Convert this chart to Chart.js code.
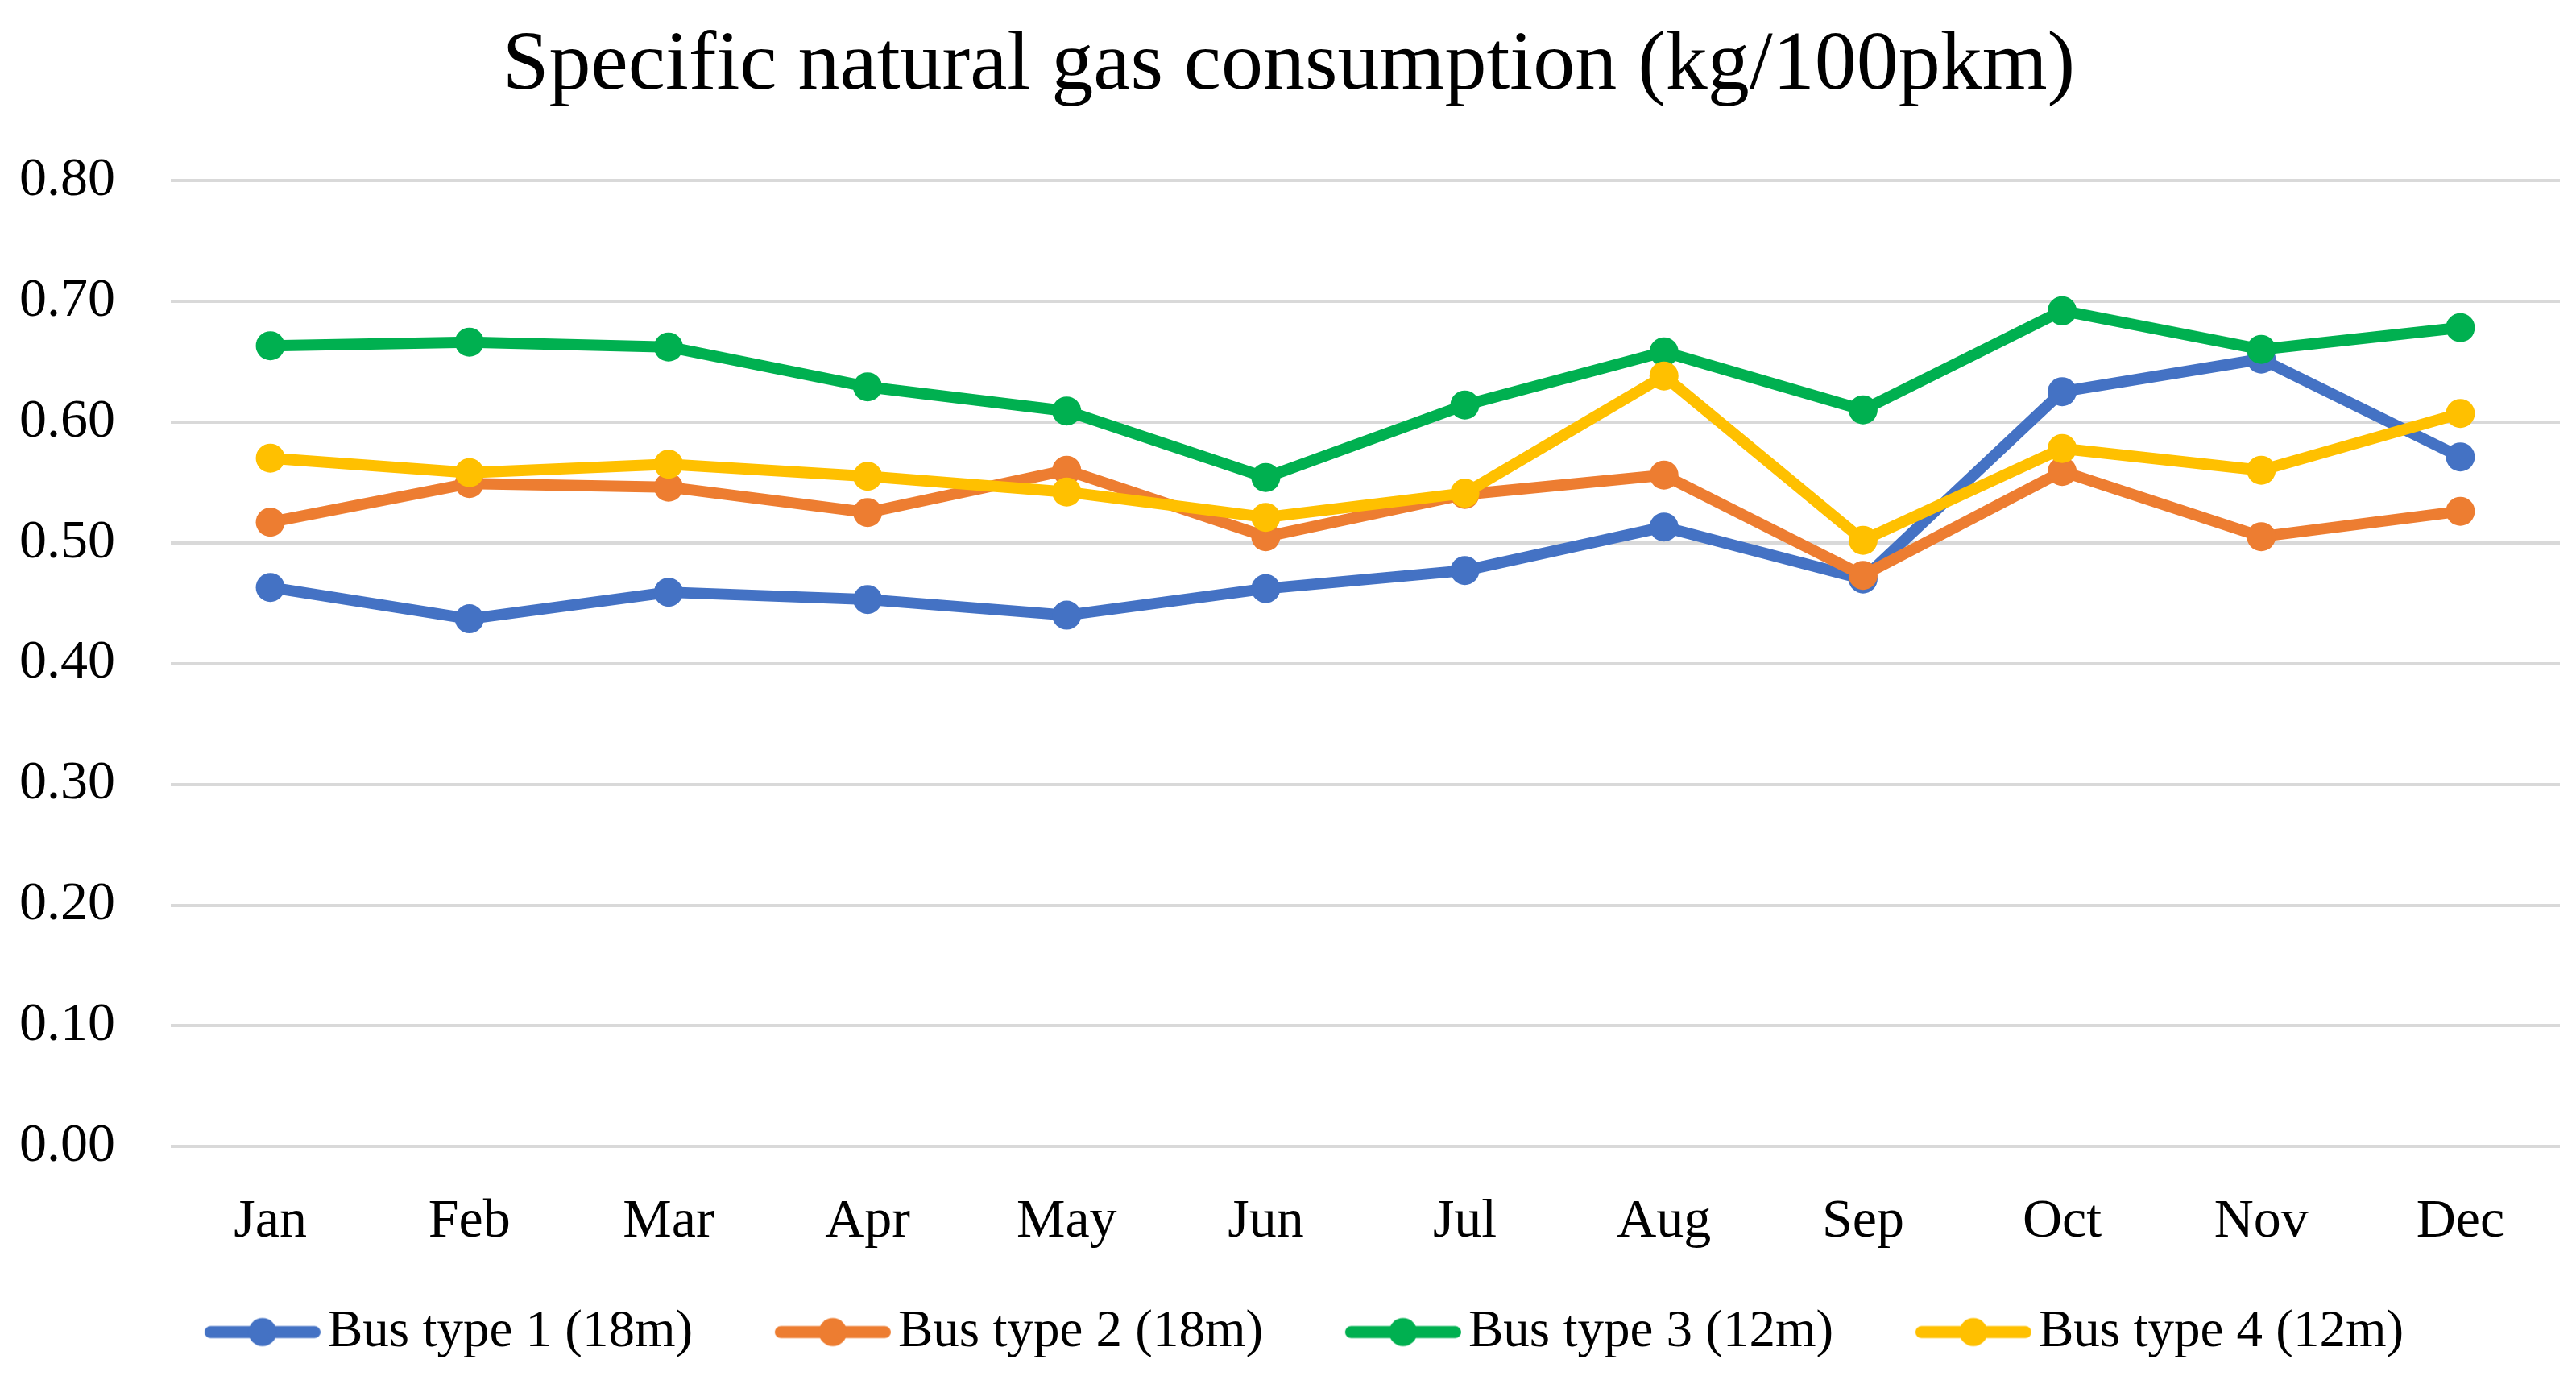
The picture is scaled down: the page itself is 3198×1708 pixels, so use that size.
<!DOCTYPE html>
<html>
<head>
<meta charset="utf-8">
<script src="https://cdn.jsdelivr.net/npm/chart.js@4"></script>
<style>
  html, body { margin: 0; padding: 0; background: #fff; }
  #wrap { width: 3198px; height: 1708px; }
</style>
</head>
<body>
<div id="wrap"><canvas id="gasChart"></canvas></div>
<script>
// data
const months = ['Jan', 'Feb', 'Mar', 'Apr', 'May', 'Jun', 'Jul', 'Aug', 'Sep', 'Oct', 'Nov', 'Dec'];
const bus1 = [0.463, 0.437, 0.459, 0.453, 0.440, 0.462, 0.477, 0.513, 0.470, 0.625, 0.652, 0.571];
const bus2 = [0.517, 0.549, 0.546, 0.525, 0.560, 0.505, 0.540, 0.556, 0.473, 0.559, 0.505, 0.526];
const bus3 = [0.663, 0.666, 0.662, 0.629, 0.609, 0.554, 0.614, 0.658, 0.610, 0.692, 0.660, 0.678];
const bus4 = [0.570, 0.558, 0.565, 0.555, 0.542, 0.521, 0.541, 0.638, 0.502, 0.578, 0.560, 0.607];
const seriesNames = ['Bus type 1 (18m)', 'Bus type 2 (18m)', 'Bus type 3 (12m)', 'Bus type 4 (12m)'];
const yTicks = [0, 0.1, 0.2, 0.3, 0.4, 0.5, 0.6, 0.7, 0.8];

const colors = ['#4472C4', '#ED7D31', '#00B050', '#FFC000'];
const FONT = "'Liberation Serif', serif";
const LEGEND_SIZE = 65;
const LEGEND_PAD = 10;
const ITEM_PITCH = 708;   // distance between legend items in the reference
const LINE_LEN = 144;     // legend line sample length
const TEXT_GAP = 9;

// work out legend box width so the items land where Excel put them
const mctx = document.createElement('canvas').getContext('2d');
mctx.font = LEGEND_SIZE + "px " + FONT;
const textW = Math.max(...seriesNames.map(s => mctx.measureText(s).width));
const half = LEGEND_SIZE / 2;
const boxW = ITEM_PITCH - half - textW - LEGEND_PAD;
const imgW = Math.round(boxW + 2 * (half - TEXT_GAP));

// legend marker: line with a dot in the middle, like Excel
function legendMarker(color) {
  const c = document.createElement('canvas');
  c.width = imgW; c.height = 40;
  const g = c.getContext('2d');
  const x0 = imgW - LINE_LEN;
  g.strokeStyle = color;
  g.lineWidth = 15;
  g.lineCap = 'round';
  g.beginPath();
  g.moveTo(x0 + 7.5, 20); g.lineTo(imgW - 7.5, 20);
  g.stroke();
  g.fillStyle = color;
  g.beginPath();
  g.arc(x0 + LINE_LEN / 2, 20, 17.5, 0, Math.PI * 2);
  g.fill();
  return c;
}
const markers = colors.map(legendMarker);

// shift the legend so its first line starts at x=254 like the reference
const legendNudge = {
  id: 'legendNudge',
  afterLayout(chart) {
    const lg = chart.legend;
    const groupW = 4 * (boxW + half + textW) + 3 * LEGEND_PAD;
    const cx = (lg.left + lg.right) / 2;
    const visStart = cx - groupW / 2 + boxW + half - TEXT_GAP - LINE_LEN;
    const d = 254 - visStart;
    lg.left += d;
    lg.right += d;
  }
};

const allSeries = [bus1, bus2, bus3, bus4];
const datasets = allSeries.map((vals, i) => ({
  label: seriesNames[i],
  data: vals,
  borderColor: colors[i],
  backgroundColor: colors[i],
  borderWidth: 14,
  borderJoinStyle: 'round',
  borderCapStyle: 'round',
  pointRadius: 18,
  pointBorderWidth: 0,
  pointHoverRadius: 18,
  tension: 0,
  order: 4 - i // later series drawn on top
}));

new Chart(document.getElementById('gasChart'), {
  type: 'line',
  data: { labels: months, datasets },
  plugins: [legendNudge],
  options: {
    responsive: true,
    maintainAspectRatio: false,
    animation: false,
    events: [],
    layout: { padding: { left: 22, right: 20, top: 0, bottom: 12 } },
    plugins: {
      title: {
        display: true,
        text: 'Specific natural gas consumption (kg/100pkm)',
        color: '#000',
        font: { family: FONT, size: 104, weight: 'normal' },
        padding: { top: 20, bottom: 79 }
      },
      legend: {
        position: 'bottom',
        labels: {
          color: '#000',
          font: { family: FONT, size: LEGEND_SIZE },
          usePointStyle: true,
          pointStyleWidth: boxW,
          padding: LEGEND_PAD,
          sort: (a, b) => a.datasetIndex - b.datasetIndex,
          generateLabels: (chart) => chart.data.datasets.map((ds, i) => ({
            text: ds.label,
            fillStyle: colors[i],
            strokeStyle: colors[i],
            lineWidth: 0,
            pointStyle: markers[i],
            datasetIndex: i,
            hidden: false
          }))
        }
      },
      tooltip: { enabled: false }
    },
    scales: {
      x: {
        offset: true,
        grid: { display: false, drawTicks: false },
        border: { display: false },
        ticks: { color: '#000', font: { family: FONT, size: 68 }, padding: 53 }
      },
      y: {
        min: 0,
        max: 0.8,
        afterBuildTicks: (s) => { s.ticks = yTicks.map(v => ({ value: v })); },
        afterFit: (s) => { s.width = 190; },
        grid: { color: '#D9D9D9', lineWidth: 4, drawTicks: false },
        border: { display: false },
        ticks: {
          color: '#000',
          font: { family: FONT, size: 68 },
          padding: 69,
          callback: (v) => Number(v).toFixed(2)
        }
      }
    }
  }
});
</script>
</body>
</html>
